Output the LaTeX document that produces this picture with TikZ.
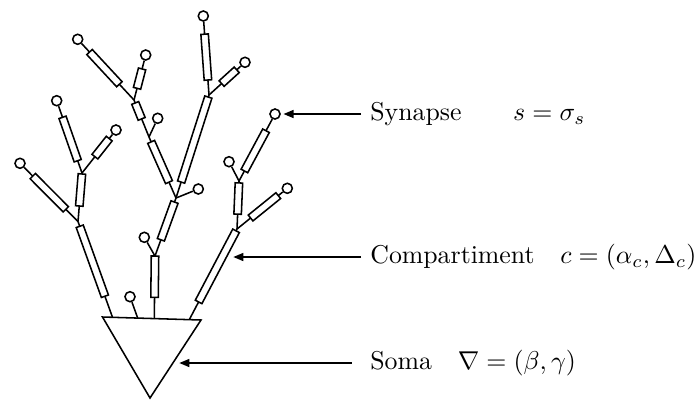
\documentclass[tikz,border=0pt]{standalone}
\usetikzlibrary{calc,arrows.meta}
\newcommand{\hw}{1.45pt}
\newcommand{\compart}[4]{%
  \coordinate (cA) at ($(#1)!#3!(#2)$);
  \coordinate (cB) at ($(#1)!#4!(#2)$);
  \filldraw[comp] ($(cA)!\hw!90:(cB)$) -- ($(cB)!\hw!-90:(cA)$) -- ($(cB)!\hw!90:(cA)$) -- ($(cA)!\hw!-90:(cB)$) -- cycle;}
\begin{document}
\begin{tikzpicture}[x=0.3876pt,y=-0.3876pt, line width=0.6pt,
  syn/.style={circle,draw,fill=white,minimum size=3.9pt,inner sep=0pt},
  comp/.style={draw,fill=white,line join=miter},
  arr/.style={-{Triangle[length=3.9pt,width=3.1pt]}},
  lab/.style={anchor=west,inner sep=3.33pt}]
\useasboundingbox (0,0) rectangle (696,401);
% soma
\coordinate (SL) at (102.5,317);
\coordinate (SR) at (201,320);
\coordinate (SA) at (150,398);
\draw[line join=miter] (SL) -- (SR) -- (SA) -- cycle;
\coordinate (A0) at (112.5,317.3);
\coordinate (B0) at (137.7,318.1);
\coordinate (C0) at (154.3,318.6);
\coordinate (D0) at (189.3,319.6);
% junctions
\coordinate (J1) at (78,221.5);
\coordinate (J2) at (82,173);
\coordinate (J3) at (155,256);
\coordinate (J4) at (176,198);
\coordinate (J5) at (149,137);
\coordinate (J6) at (209,95);
\coordinate (J7) at (134,100);
\coordinate (J8) at (237,229);
\coordinate (J9) at (239,181);
% synapses
\node[syn] (S1) at (20,163.3) {};
\node[syn] (S2) at (56.7,100.7) {};
\node[syn] (S3) at (116,130) {};
\node[syn] (S4) at (130,296.7) {};
\node[syn] (S5) at (144.3,237.3) {};
\node[syn] (S6) at (198.3,189) {};
\node[syn] (S7) at (203.3,16) {};
\node[syn] (S8) at (245,62.3) {};
\node[syn] (S9) at (157.7,118.3) {};
\node[syn] (S10) at (145.7,55) {};
\node[syn] (S11) at (77.7,39.3) {};
\node[syn] (S12) at (229,161.7) {};
\node[syn] (S13) at (275,114) {};
\node[syn] (S14) at (287.3,188.3) {};
% branches
\draw (A0) -- (J1);
\draw (J1) -- (S1);
\draw (J1) -- (J2);
\draw (J2) -- (S2);
\draw (J2) -- (S3);
\draw (B0) -- (S4);
\draw (C0) -- (J3);
\draw (J3) -- (S5);
\draw (J3) -- (J4);
\draw (J4) -- (S6);
\draw (J4) -- (J5);
\draw (J4) -- (J6);
\draw (J6) -- (S7);
\draw (J6) -- (S8);
\draw (J5) -- (S9);
\draw (J5) -- (J7);
\draw (J7) -- (S10);
\draw (J7) -- (S11);
\draw (D0) -- (J8);
\draw (J8) -- (J9);
\draw (J9) -- (S12);
\draw (J9) -- (S13);
\draw (J8) -- (S14);
% compartments
\compart{J1}{A0}{0.05}{0.78}
\compart{J1}{S1}{0.21}{0.78}
\compart{J1}{J2}{0.32}{0.98}
\compart{J2}{S2}{0.17}{0.77}
\compart{J2}{S3}{0.38}{0.80}
\compart{C0}{J3}{0.34}{1.0}
\compart{J3}{J4}{0.28}{0.93}
\compart{J4}{J5}{0.26}{0.92}
\compart{J4}{J6}{0.155}{0.98}
\compart{J6}{S7}{0.19}{0.77}
\compart{J6}{S8}{0.35}{0.77}
\compart{J5}{J7}{0.49}{0.92}
\compart{J7}{S10}{0.26}{0.69}
\compart{J7}{S11}{0.26}{0.79}
\compart{D0}{J8}{0.195}{0.98}
\compart{J8}{J9}{0.31}{0.96}
\compart{J9}{S13}{0.15}{0.75}
\compart{J8}{S14}{0.27}{0.82}
% labels
\coordinate (syntip) at (283.5,114);
\coordinate (comptip) at (233.3,257);
\coordinate (somatip) at (179.3,363);
\node[lab] (synlab) at (361,114) {Synapse\qquad$s=\sigma_s$};
\node[lab] (complab) at (361,257) {Compartiment\quad$c=(\alpha_c,\Delta_c)$};
\node[lab] (somalab) at (361,363) {Soma\quad$\nabla=(\beta,\gamma)$};
\draw[arr] (synlab.west) -- (syntip);
\draw[arr] (complab.west) -- (comptip);
\draw[arr, shorten <=3.5pt] (somalab.west) -- (somatip);
\end{tikzpicture}
\end{document}
